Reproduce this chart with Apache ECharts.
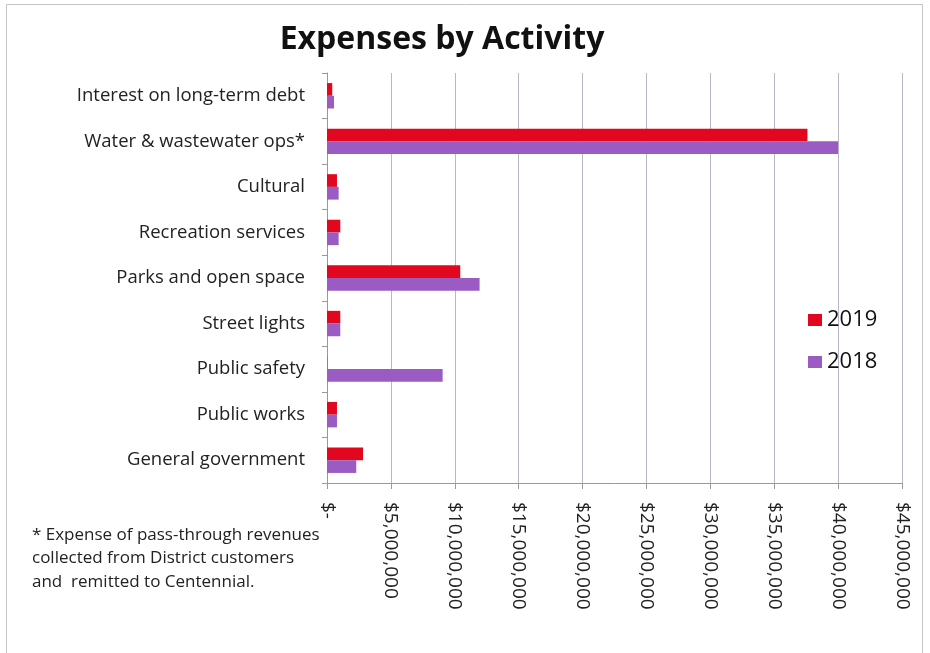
<!DOCTYPE html>
<html>
<head>
<meta charset="utf-8">
<script src="https://cdn.jsdelivr.net/npm/echarts@6/dist/echarts.min.js"></script>
<style>
html,body{margin:0;padding:0;background:#fff;}
#c{width:930px;height:653px;}
</style>
</head>
<body>
<div id="c"></div>
<script>
var categories = ['Interest on long-term debt','Water & wastewater ops*','Cultural','Recreation services','Parks and open space','Street lights','Public safety','Public works','General government'];
var values2019 = [410000, 37600000, 780000, 1040000, 10430000, 1040000, 20000, 780000, 2820000];
var values2018 = [550000, 40000000, 910000, 910000, 11940000, 1040000, 9050000, 780000, 2290000];
var seriesNames = ['2019','2018'];
var footnoteLines = ['* Expense of pass-through revenues','collected from District customers','and  remitted to Centennial.'];

function money(v){
  if (v === 0) return '$-';
  return '$' + String(Math.round(v)).replace(/\B(?=(\d{3})+(?!\d))/g, ',');
}

var chart = echarts.init(document.getElementById('c'), null, {renderer:'canvas'});
chart.setOption({
  backgroundColor:'#ffffff',
  animation:false,
  title:{
    text:'Expenses by Activity',
    left:437, top:19, textAlign:'center',
    textStyle:{fontFamily:'Open Sans', fontWeight:'bold', fontSize:32, color:'#111'}
  },
  legend:{
    orient:'vertical', left:803, top:304,
    itemWidth:14, itemHeight:12, itemGap:20,
    icon:'rect',
    textStyle:{fontFamily:'Open Sans', fontSize:22, color:'#111'},
    data:seriesNames
  },
  grid:{left:327, right:28, top:73, bottom:170, containLabel:false},
  xAxis:{
    type:'value', min:0, max:45000000, interval:5000000,
    axisLine:{show:true, lineStyle:{color:'#999', width:1}},
    axisTick:{show:true, length:6, lineStyle:{color:'#999'}},
    splitLine:{show:true, lineStyle:{color:'#b8b8c8', width:1}},
    axisLabel:{rotate:-90, margin:19, fontFamily:'Open Sans', fontSize:19, color:'#222', formatter:money}
  },
  yAxis:{
    type:'category', data:categories, inverse:true,
    axisLine:{show:true, lineStyle:{color:'#999', width:1}},
    axisTick:{show:true, length:5, lineStyle:{color:'#999'}},
    axisLabel:{margin:22, fontFamily:'Open Sans', fontSize:18.5, color:'#222'}
  },
  series:[
    {name:seriesNames[0], type:'bar', data:values2019, barWidth:12.7, barGap:'0%', itemStyle:{color:'#E2061E'}},
    {name:seriesNames[1], type:'bar', data:values2018, barWidth:12.7, barGap:'0%', itemStyle:{color:'#9A5BC2'}}
  ],
  graphic:[
    {type:'rect', shape:{x:6.5, y:4.5, width:916, height:670}, style:{fill:null, stroke:'#c4c4c4', lineWidth:1}, silent:true},
    {type:'text', left:32, top:523, style:{text:footnoteLines.join('\n'), font:'17px "Open Sans"', fill:'#222', lineHeight:23.5}}
  ]
});
</script>
</body>
</html>
